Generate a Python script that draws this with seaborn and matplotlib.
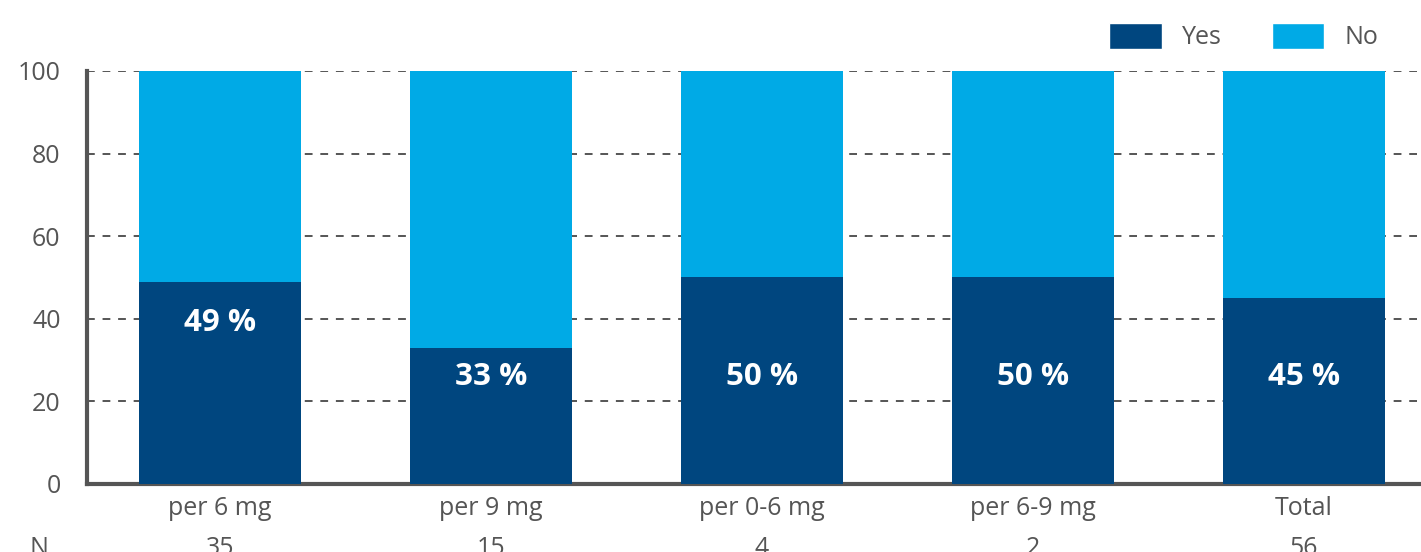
import matplotlib
matplotlib.use("Agg")
import matplotlib.pyplot as plt
import matplotlib.transforms as mtransforms
from matplotlib.patches import Patch
import seaborn as sns
import pandas as pd

categories = ["per 6 mg", "per 9 mg", "per 0-6 mg", "per 6-9 mg", "Total"]
yes_pct = [49, 33, 50, 50, 45]
no_pct = [51, 67, 50, 50, 55]
n_values = [35, 15, 4, 2, 56]

DARK = "#00467f"
LIGHT = "#00aae6"
GREY = "#555555"

sns.set_theme(style="white")
plt.rcParams["font.family"] = ["Open Sans", "DejaVu Sans"]

df = pd.DataFrame({"Category": categories, "Yes": yes_pct, "No": no_pct})
df["Total"] = df["Yes"] + df["No"]

fig = plt.figure(figsize=(14.21, 5.52), dpi=100)
ax = fig.add_axes([0.0612, 0.1232, 0.9388, 0.7482])

sns.barplot(data=df, x="Category", y="Total", color=LIGHT, width=0.598,
            saturation=1, linewidth=0, ax=ax, zorder=2)
sns.barplot(data=df, x="Category", y="Yes", color=DARK, width=0.598,
            saturation=1, linewidth=0, ax=ax, zorder=3)

ax.set_ylim(0, 100)
ax.set_xlim(-0.491, 4.432)
ax.set_yticks([0, 20, 40, 60, 80, 100])
ax.set_xlabel("")
ax.set_ylabel("")
ax.yaxis.grid(True, linestyle=(0, (4, 4)), color=GREY, linewidth=1.4, zorder=0)
ax.set_axisbelow(True)
ax.tick_params(axis="both", length=0, labelsize=18, labelcolor=GREY)
ax.tick_params(axis="x", pad=9)
ax.tick_params(axis="y", pad=19)

for side in ["top", "right"]:
    ax.spines[side].set_visible(False)
for side in ["left", "bottom"]:
    ax.spines[side].set_color(GREY)
    ax.spines[side].set_linewidth(3)

# percent labels inside the dark bars
label_y = [39, 26, 26, 26, 26]
for i, (v, ly) in enumerate(zip(yes_pct, label_y)):
    ax.text(i, ly, f"{v} %", ha="center", va="center", color="white",
            fontsize=22.5, fontweight="bold", zorder=5)

# N row
trans = mtransforms.blended_transform_factory(ax.transData, ax.transAxes)
for i, n in enumerate(n_values):
    ax.text(i, -0.125, str(n), ha="center", va="top", fontsize=18,
            color=GREY, transform=trans)
ax.text(-0.67, -0.125, "N", ha="center", va="top", fontsize=18,
        color=GREY, transform=trans)

handles = [Patch(facecolor=DARK, label="Yes"), Patch(facecolor=LIGHT, label="No")]
leg = fig.legend(handles=handles, loc="upper right", bbox_to_anchor=(0.982, 0.99),
                 ncol=2, frameon=False, fontsize=18, handlelength=2.1,
                 handleheight=1.2, handletextpad=0.8, columnspacing=2.0,
                 borderaxespad=0.3)
for t in leg.get_texts():
    t.set_color(GREY)

fig.savefig("out.png", dpi=100)
